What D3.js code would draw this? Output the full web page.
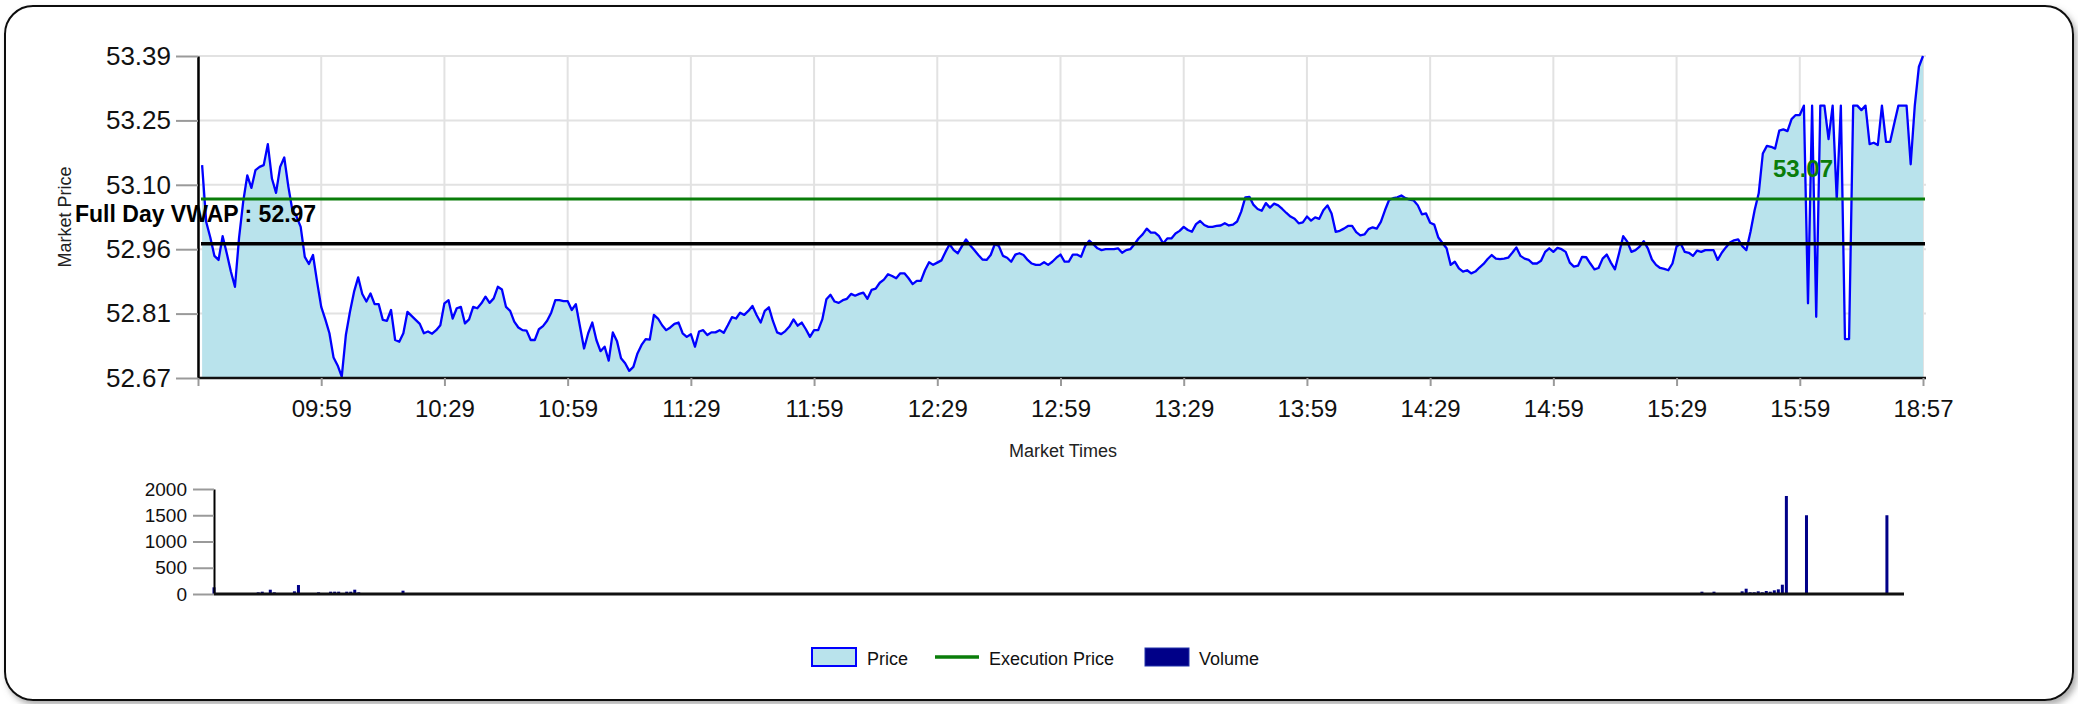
<!DOCTYPE html>
<html><head><meta charset="utf-8">
<script src="https://cdn.jsdelivr.net/npm/d3@7/dist/d3.min.js"></script>
<style>html,body{margin:0;padding:0;background:#fff;overflow:hidden}
text{font-family:"Liberation Sans",Arial,sans-serif}</style>
</head><body>
<svg id="chart" width="2078" height="704"></svg>
<script>
// ---------- data ----------
const timeTickIndex = [0,30,60,90,120,150,180,210,240,270,300,330,360,390,420];
const timeTickLabels = ["","09:59","10:29","10:59","11:29","11:59","12:29","12:59","13:29","13:59","14:29","14:59","15:29","15:59","18:57"];
const priceStartIndex = 1;
const priceValues = [
53.146,53.019,52.984,52.943,52.934,52.987,52.949,52.908,52.874,52.984,
53.064,53.123,53.095,53.135,53.142,53.146,53.193,53.116,53.084,53.142,
53.163,53.098,53.044,53.031,53.008,52.941,52.925,52.945,52.885,52.829,
52.801,52.770,52.716,52.698,52.673,52.766,52.818,52.863,52.895,52.858,
52.841,52.859,52.835,52.835,52.800,52.798,52.822,52.755,52.751,52.770,
52.818,52.809,52.800,52.791,52.770,52.774,52.769,52.777,52.788,52.837,
52.844,52.803,52.826,52.829,52.792,52.801,52.829,52.826,52.837,52.852,
52.838,52.848,52.874,52.868,52.829,52.820,52.796,52.783,52.777,52.776,
52.755,52.755,52.779,52.786,52.798,52.816,52.844,52.844,52.842,52.842,
52.822,52.835,52.785,52.736,52.770,52.794,52.755,52.730,52.740,52.709,
52.772,52.753,52.714,52.703,52.686,52.695,52.725,52.744,52.757,52.756,
52.811,52.803,52.788,52.777,52.783,52.791,52.794,52.770,52.762,52.768,
52.740,52.774,52.777,52.766,
52.772,52.772,52.777,52.771,52.788,52.806,
52.803,52.816,52.811,52.820,52.831,52.811,52.794,52.820,52.828,52.797,
52.772,52.768,52.775,52.785,52.801,52.787,52.794,52.779,52.762,52.777,
52.777,52.801,52.846,52.856,52.841,52.838,52.844,52.847,52.858,52.854,
52.858,52.861,52.847,52.867,52.870,52.883,52.890,52.902,52.898,52.893,
52.904,52.904,52.893,52.880,52.887,52.887,52.911,52.929,52.923,52.928,
52.933,52.952,52.969,52.956,52.949,52.965,52.980,52.967,52.956,52.945,
52.935,52.934,52.945,52.969,52.965,52.943,52.939,52.930,52.946,52.949,
52.945,52.934,52.926,52.923,52.923,52.929,52.923,52.930,52.939,52.946,
52.930,52.930,52.946,52.946,52.941,52.965,52.977,52.969,52.960,52.956,
52.958,52.958,52.958,52.960,52.950,52.956,52.958,52.969,52.982,52.991,
53.004,52.995,52.995,52.987,52.971,52.982,52.982,52.993,52.999,53.008,
53.001,52.997,53.014,53.021,53.012,53.008,53.008,53.010,
53.011,53.016,
53.011,53.013,53.020,53.042,53.074,53.075,53.057,53.048,53.044,53.061,
53.051,53.060,53.056,53.048,53.039,53.031,53.026,53.016,53.018,53.031,
53.022,53.029,53.026,53.045,53.056,53.038,52.997,52.999,53.004,53.010,
53.010,52.996,52.989,52.991,53.003,53.007,53.004,53.019,53.045,53.068,
53.072,53.074,53.078,53.072,53.069,53.067,53.056,53.036,53.038,53.017,
53.013,52.984,52.972,52.960,52.923,52.930,52.915,52.908,52.911,52.904,
52.908,52.917,52.925,52.936,52.945,52.937,52.936,52.937,52.939,52.950,
52.962,52.943,52.937,52.934,52.926,52.926,52.932,52.952,52.960,52.952,
52.961,52.958,52.952,52.928,52.919,52.921,52.941,52.940,52.926,52.913,
52.916,52.937,52.946,52.928,52.913,52.949,52.987,52.975,52.952,52.956,
52.964,52.976,52.960,52.935,52.923,52.916,52.914,52.911,52.926,52.964,
52.971,52.952,52.950,52.943,52.955,52.952,52.956,52.956,52.956,52.934,
52.950,52.962,
52.973,52.978,52.980,52.965,52.956,52.997,53.045,53.083,
53.172,53.189,53.187,53.183,53.223,53.226,53.222,53.249,53.258,53.258,
53.279,52.837,53.279,52.807,53.279,53.279,53.204,53.279,53.070,53.279,
52.757,52.757,53.279,53.279,53.269,53.279,53.193,53.196,53.191,53.279,
53.198,53.198,53.239,53.279,53.279,53.279,53.148,53.279,53.366,53.390
];
const priceDomain = [52.67, 53.39];
const priceTickValues = [52.67, 52.814, 52.958, 53.102, 53.246, 53.39];
const priceTickLabels = ["52.67","52.81","52.96","53.10","53.25","53.39"];
const vwapValue = 52.97;
const vwapLabel = "Full Day VWAP : 52.97";
const execPrice = 53.07;
const execLabel = "53.07";

const volumeIndex = [
0,4,6,7,9, 11,12,14,15,17, 18,20,21,22,25, 26,29,30,31,33,
34,35,36,38,44, 47,54,61,80,93, 96,104,105,133,182, 216,224,249,253,286,
297,300,333,339,346, 354,356,361,362,366, 367,368,370,371,373, 374,377,378,379,380,
381,382,383,384,385, 386,387,388,389,390, 391,396,416];
const volumeValues = [
127,19,19,19,19, 32,44,82,32,19, 19,51,171,19,19, 32,44,44,44,44,
44,82,32,19,19, 63,19,19,19,19, 19,19,19,19,19, 19,19,19,19,19,
19,19,19,19,19, 19,19,19,19,19, 19,19,44,19,44, 19,19,19,19,51,
101,32,32,51,32, 57,44,70,89,177, 1867,1500,1500];
const volumeTicks = [0,500,1000,1500,2000];
const volumeTickLabels = ["0","500","1000","1500","2000"];
const legendItems = ["Price","Execution Price","Volume"];

// ---------- drawing ----------
const svg = d3.select("#chart");
const FONT = '"Liberation Sans",Arial,sans-serif';

const defs = svg.append("defs");
const f = defs.append("filter").attr("id","shadow").attr("x","-5%").attr("y","-5%").attr("width","110%").attr("height","115%");
f.append("feDropShadow").attr("dx",3).attr("dy",4).attr("stdDeviation",3).attr("flood-color","#777").attr("flood-opacity",0.6);

svg.append("rect").attr("x",5).attr("y",6).attr("width",2068).attr("height",694)
  .attr("rx",28).attr("ry",28).attr("fill","#fff").attr("stroke","#111").attr("stroke-width",2)
  .attr("filter","url(#shadow)");

// main chart scales
const pm = {left:198, right:1923, top:56, bottom:378};
const x = d3.scaleLinear().domain([0,420]).range([pm.left, pm.right]);
const y = d3.scaleLinear().domain(priceDomain).range([pm.bottom, pm.top]);

// grid
const grid = svg.append("g");
grid.selectAll("line.h").data(priceTickValues).enter().append("line")
  .attr("x1",pm.left).attr("x2",pm.right+3).attr("y1",d=>y(d)).attr("y2",d=>y(d))
  .attr("stroke","#e2e2e2").attr("stroke-width",2);
grid.selectAll("line.v").data(timeTickIndex).enter().append("line")
  .attr("x1",d=>x(d)).attr("x2",d=>x(d)).attr("y1",pm.top).attr("y2",pm.bottom)
  .attr("stroke","#e2e2e2").attr("stroke-width",2);

const pts = priceValues.map((v,i)=>({i:i+priceStartIndex, v}));
svg.append("path").datum(pts)
  .attr("d", d3.area().x(d=>x(d.i)).y0(pm.bottom).y1(d=>y(d.v)))
  .attr("fill","#b9e3ec");
svg.append("path").datum(pts)
  .attr("d", d3.line().x(d=>x(d.i)).y(d=>y(d.v)))
  .attr("fill","none").attr("stroke","#0000ff").attr("stroke-width",2.3).attr("stroke-linejoin","round");

// VWAP and execution lines
svg.append("line").attr("x1",pm.left+3).attr("x2",pm.right+2)
  .attr("y1",y(vwapValue)).attr("y2",y(vwapValue)).attr("stroke","#000").attr("stroke-width",3.5);
svg.append("line").attr("x1",pm.left+3).attr("x2",pm.right+2)
  .attr("y1",y(execPrice)).attr("y2",y(execPrice)).attr("stroke","#0a7d0a").attr("stroke-width",3);

// axes
const yAxis = d3.axisLeft(y).tickValues(priceTickValues).tickFormat((d,i)=>priceTickLabels[i])
  .tickSize(22).tickSizeOuter(0).tickPadding(5);
const gy = svg.append("g").attr("transform",`translate(${pm.left},0)`).call(yAxis);
gy.attr("font-size",26).attr("font-family",FONT);
gy.select(".domain").attr("stroke","#000").attr("stroke-width",2.5);
gy.selectAll(".tick line").attr("stroke","#9a9a9a").attr("stroke-width",2);
gy.selectAll(".tick text").attr("fill","#111");

const xAxis = d3.axisBottom(x).tickValues(timeTickIndex).tickFormat((d,i)=>timeTickLabels[i])
  .tickSize(8).tickSizeOuter(0).tickPadding(14);
const gx = svg.append("g").attr("transform",`translate(0,${pm.bottom})`).call(xAxis);
gx.attr("font-size",24).attr("font-family",FONT);
gx.select(".domain").attr("stroke","#111").attr("stroke-width",2.5).attr("d",`M${pm.left},0H${pm.right+3}`);
gx.selectAll(".tick line").attr("stroke","#9a9a9a").attr("stroke-width",2);
gx.selectAll(".tick text").attr("fill","#111");

// labels
svg.append("text").attr("x",75).attr("y",222).attr("font-size",23).attr("font-weight","bold")
  .attr("fill","#000").text(vwapLabel);
svg.append("text").attr("x",1803).attr("y",177).attr("text-anchor","middle").attr("font-size",24)
  .attr("font-weight","bold").attr("fill","#0a7d0a").text(execLabel);
svg.append("text").attr("transform","translate(71,217) rotate(-90)").attr("text-anchor","middle")
  .attr("font-size",18).attr("fill","#222").text("Market Price");
svg.append("text").attr("x",1063).attr("y",457).attr("text-anchor","middle")
  .attr("font-size",18).attr("fill","#222").text("Market Times");

// volume chart
const vm = {left:214, right:1903, top:489, bottom:594};
const xv = d3.scaleLinear().domain([0,420]).range([vm.left, vm.right]);
const yv = d3.scaleLinear().domain([0,2000]).range([vm.bottom, vm.top]);
svg.append("g").selectAll("rect").data(volumeIndex.map((d,i)=>({i:d, v:volumeValues[i]}))).enter()
  .append("rect").attr("x",d=>xv(d.i)-1.5).attr("width",3)
  .attr("y",d=>yv(d.v)).attr("height",d=>vm.bottom-yv(d.v)).attr("fill","#000088");
const yvAxis = d3.axisLeft(yv).tickValues(volumeTicks).tickFormat((d,i)=>volumeTickLabels[i])
  .tickSize(21).tickSizeOuter(0).tickPadding(6);
const gyv = svg.append("g").attr("transform",`translate(${vm.left},0)`).call(yvAxis);
gyv.attr("font-size",19).attr("font-family",FONT);
gyv.select(".domain").attr("stroke","#000").attr("stroke-width",2);
gyv.selectAll(".tick line").attr("stroke","#9a9a9a").attr("stroke-width",2);
gyv.selectAll(".tick text").attr("fill","#111");
svg.append("line").attr("x1",vm.left).attr("x2",vm.right+1).attr("y1",vm.bottom).attr("y2",vm.bottom)
  .attr("stroke","#111").attr("stroke-width",3);

// legend
const lg = svg.append("g").attr("font-size",18).attr("fill","#111");
lg.append("rect").attr("x",812).attr("y",648).attr("width",44).attr("height",18)
  .attr("fill","#b9e3ec").attr("stroke","#0000ff").attr("stroke-width",2);
lg.append("text").attr("x",867).attr("y",665).text(legendItems[0]);
lg.append("line").attr("x1",935).attr("x2",979).attr("y1",657).attr("y2",657)
  .attr("stroke","#0a7d0a").attr("stroke-width",3.5);
lg.append("text").attr("x",989).attr("y",665).text(legendItems[1]);
lg.append("rect").attr("x",1145).attr("y",648).attr("width",44).attr("height",18)
  .attr("fill","#000088").attr("stroke","#2233aa").attr("stroke-width",1);
lg.append("text").attr("x",1199).attr("y",665).text(legendItems[2]);
</script>
</body></html>
